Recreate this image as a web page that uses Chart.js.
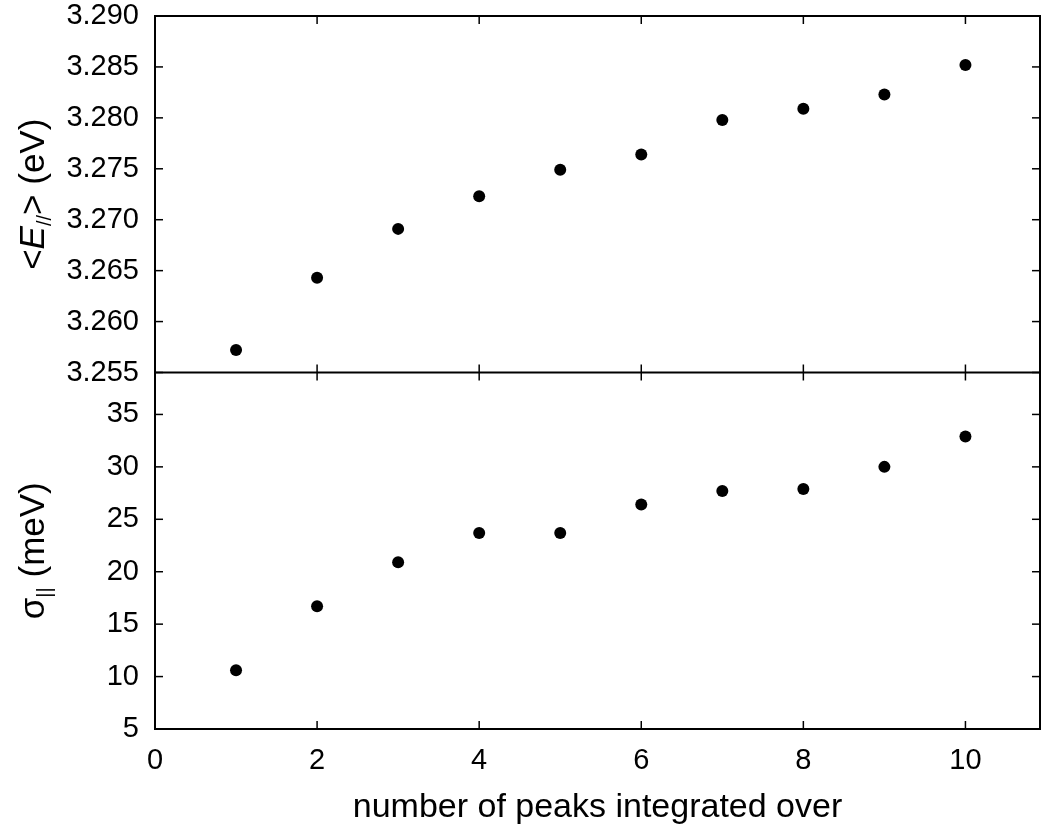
<!DOCTYPE html>
<html>
<head>
<meta charset="utf-8">
<script src="https://cdn.jsdelivr.net/npm/chart.js@4.4.0/dist/chart.umd.min.js"></script>
<style>
body { margin: 0; background: #fff; }
</style>
</head>
<body>
<canvas id="canvasPics" width="1041" height="826"></canvas>
<script>
// valeurs
const nbPics = [1, 2, 3, 4, 5, 6, 7, 8, 9, 10]
const energieMoyenne = [3.2572, 3.2643, 3.2691, 3.2723, 3.2749, 3.2764, 3.2798, 3.2809, 3.2823, 3.2852]
const sigmaMeV = [10.6, 16.7, 20.9, 23.7, 23.7, 26.4, 27.7, 27.9, 30.0, 32.9]

const limitesX = [0, 10.92]
const limitesEnergie = [3.255, 3.290]
const limitesSigma = [5, 39]

const police = '"Liberation Sans", Arial, sans-serif'

function points(xs, ys) {
    return xs.map((x, i) => ({x: x, y: ys[i]}))
}

function ligne(ctx, x1, y1, x2, y2) {
    ctx.beginPath()
    ctx.moveTo(x1, y1)
    ctx.lineTo(x2, y2)
    ctx.stroke()
}

// pas de marge auto autour des axes, on cale la zone a la main
function sansMarge(s, taille) {
    if (s.isHorizontal()) {
        s.height = taille
    } else {
        s.width = taille
    }
    s.paddingTop = 0
    s.paddingBottom = 0
    s.paddingLeft = 0
    s.paddingRight = 0
}

// texte vertical avec morceaux (italique, indice)
function ecrireVertical(ctx, morceaux, cx, cy) {
    let total = 0
    for (let m of morceaux) {
        ctx.font = m.font
        m.w = ctx.measureText(m.t).width
        total += m.w
    }
    ctx.save()
    ctx.translate(cx, cy)
    ctx.rotate(-Math.PI / 2)
    ctx.fillStyle = '#000'
    ctx.textBaseline = 'alphabetic'
    ctx.textAlign = 'left'
    let x = -total / 2
    for (let m of morceaux) {
        ctx.font = m.font
        ctx.fillText(m.t, x, m.dy || 0)
        x += m.w
    }
    ctx.restore()
}

const cadrePlugin = {
    id: 'cadre',
    afterDraw(chart) {
        const ctx = chart.ctx
        const {left, right, top, bottom} = chart.chartArea
        const sx = chart.scales.x
        const sh = chart.scales.yTop
        const sb = chart.scales.yBot
        const milieu = sh.bottom
        const lt = 8

        ctx.save()
        ctx.strokeStyle = '#000'
        ctx.lineWidth = 2
        ctx.strokeRect(left, top, right - left, bottom - top)
        ligne(ctx, left, milieu, right, milieu)

        ctx.lineWidth = 1.5
        for (let t of sx.ticks) {
            let px = sx.getPixelForValue(t.value)
            if (px <= left + 1 || px >= right - 1) continue
            ligne(ctx, px, top, px, top + lt)
            ligne(ctx, px, milieu - lt, px, milieu + lt)
            ligne(ctx, px, bottom, px, bottom - lt)
        }
        for (let s of [sh, sb]) {
            for (let t of s.ticks) {
                let py = s.getPixelForValue(t.value)
                ligne(ctx, left, py, left + lt, py)
                ligne(ctx, right, py, right - lt, py)
            }
        }

        // titres des axes
        ctx.fillStyle = '#000'
        ctx.font = '34px ' + police
        ctx.textAlign = 'center'
        ctx.textBaseline = 'alphabetic'
        ctx.fillText('number of peaks integrated over', (left + right) / 2, bottom + 88)

        const f = '35px ' + police
        const fi = 'italic 35px ' + police
        const fs = '20px ' + police
        ecrireVertical(ctx, [
            {t: '<', font: f},
            {t: 'E', font: fi},
            {t: '//', font: fs, dy: 7},
            {t: '>', font: f},
            {t: ' (eV)', font: f}
        ], 44, (sh.top + sh.bottom) / 2)
        ecrireVertical(ctx, [
            {t: 'σ', font: f},
            {t: '||', font: fs, dy: 7},
            {t: ' (meV)', font: f}
        ], 44, (sb.top + sb.bottom) / 2)
        ctx.restore()
    }
}

const styleTicks = {color: '#000', font: {family: police, size: 29}, autoSkip: false}

new Chart(document.getElementById('canvasPics'), {
    type: 'scatter',
    data: {
        datasets: [
            {
                label: 'E',
                yAxisID: 'yTop',
                data: points(nbPics, energieMoyenne),
                pointRadius: 6,
                pointHoverRadius: 6,
                backgroundColor: '#000',
                borderWidth: 0
            },
            {
                label: 'sigma',
                yAxisID: 'yBot',
                data: points(nbPics, sigmaMeV),
                pointRadius: 6,
                pointHoverRadius: 6,
                backgroundColor: '#000',
                borderWidth: 0
            }
        ]
    },
    options: {
        responsive: false,
        animation: false,
        devicePixelRatio: 1,
        layout: {autoPadding: false, padding: {top: 16, right: 1, left: 0, bottom: 0}},
        plugins: {legend: {display: false}, tooltip: {enabled: false}},
        events: [],
        scales: {
            x: {
                type: 'linear',
                min: limitesX[0],
                max: limitesX[1],
                grid: {display: false, drawTicks: false},
                border: {display: false},
                ticks: Object.assign({stepSize: 2, includeBounds: false, padding: 15, maxRotation: 0}, styleTicks),
                afterFit: (s) => sansMarge(s, 97)
            },
            yBot: {
                type: 'linear',
                position: 'left',
                stack: 'panneaux',
                stackWeight: 1,
                min: limitesSigma[0],
                max: limitesSigma[1],
                grid: {display: false, drawTicks: false},
                border: {display: false},
                ticks: Object.assign({stepSize: 5, includeBounds: false, padding: 16}, styleTicks),
                afterFit: (s) => sansMarge(s, 155)
            },
            yTop: {
                type: 'linear',
                position: 'left',
                stack: 'panneaux',
                stackWeight: 1,
                min: limitesEnergie[0],
                max: limitesEnergie[1],
                grid: {display: false, drawTicks: false},
                border: {display: false},
                ticks: Object.assign({
                    stepSize: 0.005,
                    includeBounds: false,
                    padding: 16,
                    callback: (v) => Number(v).toFixed(3)
                }, styleTicks),
                afterFit: (s) => sansMarge(s, 155)
            }
        }
    },
    plugins: [cadrePlugin]
})
</script>
</body>
</html>
